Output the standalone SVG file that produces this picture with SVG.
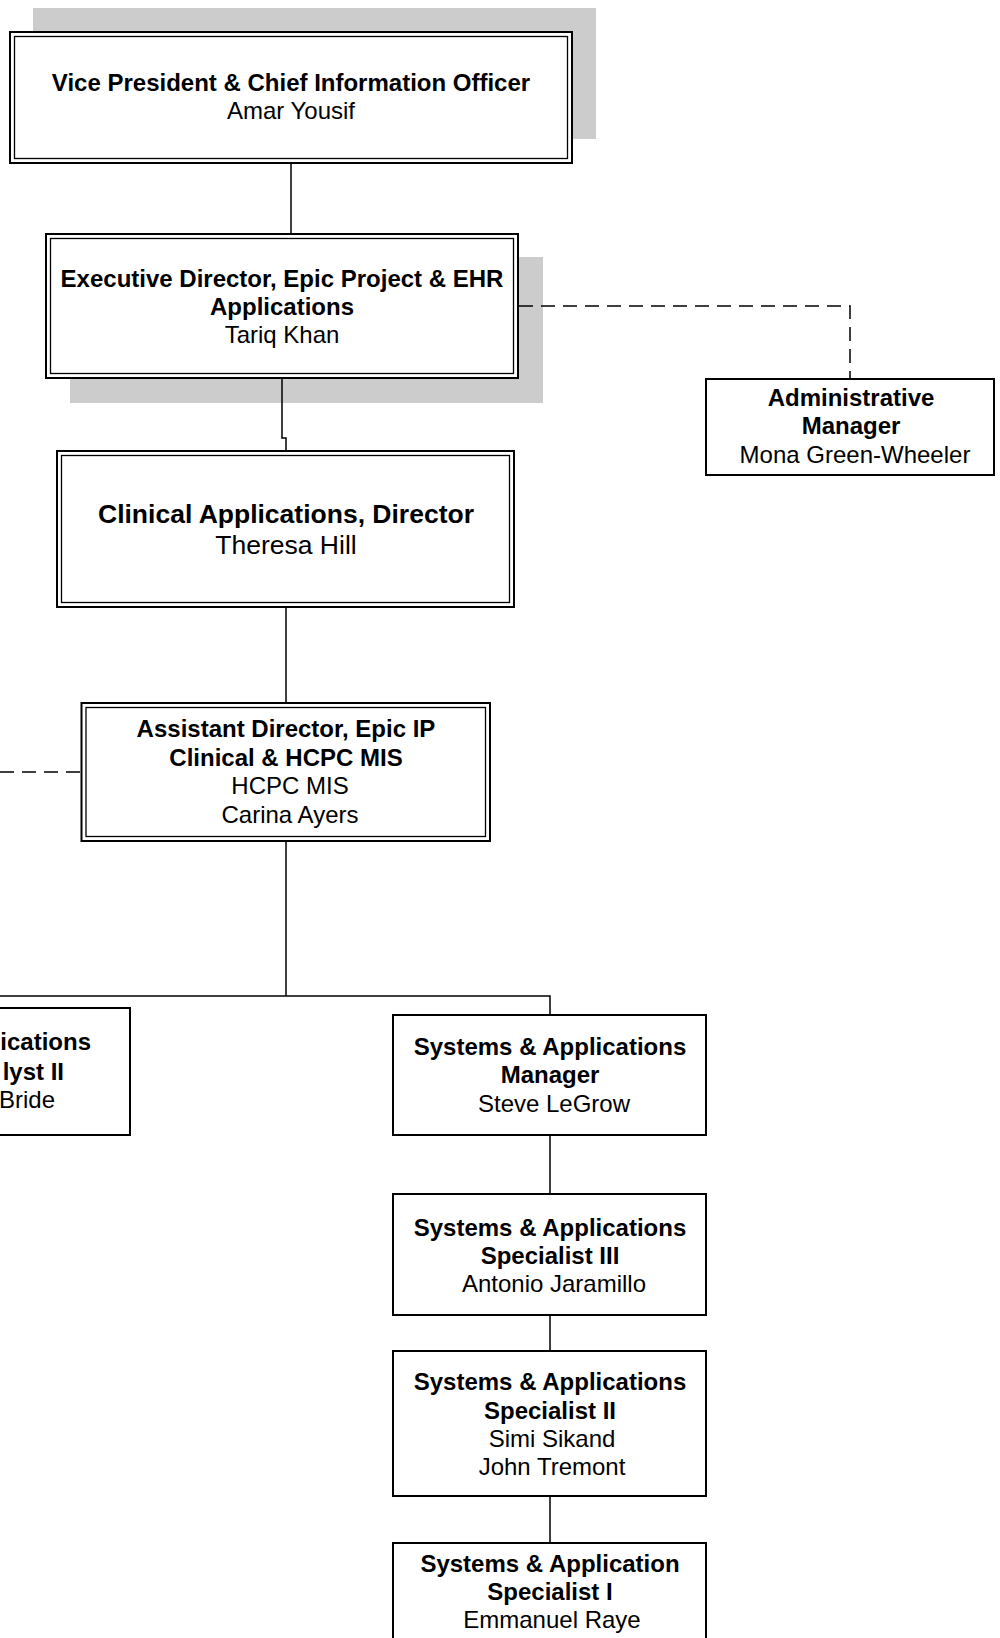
<svg xmlns="http://www.w3.org/2000/svg" width="1000" height="1638" viewBox="0 0 1000 1638">
<style>
text{font-family:"Liberation Sans",Arial,sans-serif;font-size:24px;fill:#000;text-anchor:middle}
.b{font-weight:bold}
.big{font-size:26.5px}
.end{text-anchor:end}
.shadow{fill:#cccccc;stroke:none}
.box{fill:#fff;stroke:#000;stroke-width:2}
.inner{fill:none;stroke:#000;stroke-width:1.3}
.ln{fill:none;stroke:#000;stroke-width:1.5}
.dash{fill:none;stroke:#000;stroke-width:1.5;stroke-dasharray:14 8}
</style>
<rect width="1000" height="1638" fill="#fff"/>
<g id="vp">
<rect class="shadow" x="33" y="8" width="563" height="131"/>
<rect class="box" x="10" y="32" width="562" height="131"/>
<rect class="inner" x="14.5" y="36.5" width="553" height="122"/>
<text class="b" x="291" y="91">Vice President &amp; Chief Information Officer</text>
<text x="291" y="119">Amar Yousif</text>
</g>
<g id="exec">
<rect class="shadow" x="70" y="257" width="473" height="146"/>
<rect class="box" x="46" y="234" width="472" height="144"/>
<rect class="inner" x="50.5" y="238.5" width="463" height="135"/>
<text class="b" x="282" y="287">Executive Director, Epic Project &amp; EHR</text>
<text class="b" x="282" y="315">Applications</text>
<text x="282" y="343">Tariq Khan</text>
</g>
<g id="admin">
<rect class="box" x="706" y="379" width="288" height="96"/>
<text class="b" x="851" y="406">Administrative</text>
<text class="b" x="851" y="434">Manager</text>
<text x="855" y="463">Mona Green-Wheeler</text>
</g>
<g id="clinical">
<rect class="box" x="57" y="451" width="457" height="156"/>
<rect class="inner" x="61.5" y="455.5" width="448" height="147"/>
<text class="b big" x="286" y="523">Clinical Applications, Director</text>
<text class="big" x="286" y="554">Theresa Hill</text>
</g>
<g id="asst">
<rect class="box" x="81.5" y="703" width="408.5" height="138"/>
<rect class="inner" x="86" y="707.5" width="399.5" height="129"/>
<text class="b" x="286" y="737">Assistant Director, Epic IP</text>
<text class="b" x="286" y="766">Clinical &amp; HCPC MIS</text>
<text x="290" y="794">HCPC MIS</text>
<text x="290" y="823">Carina Ayers</text>
</g>
<g id="analyst">
<rect class="box" x="-200" y="1008" width="330" height="127"/>
<text class="b end" x="91" y="1050">ications</text>
<text class="b end" x="64" y="1080">lyst II</text>
<text class="end" x="55" y="1108">Bride</text>
</g>
<g id="sam">
<rect class="box" x="393" y="1015" width="313" height="120"/>
<text class="b" x="550" y="1055">Systems &amp; Applications</text>
<text class="b" x="550" y="1083">Manager</text>
<text x="554" y="1112">Steve LeGrow</text>
</g>
<g id="spec3">
<rect class="box" x="393" y="1194" width="313" height="121"/>
<text class="b" x="550" y="1236">Systems &amp; Applications</text>
<text class="b" x="550" y="1264">Specialist III</text>
<text x="554" y="1292">Antonio Jaramillo</text>
</g>
<g id="spec2">
<rect class="box" x="393" y="1351" width="313" height="145"/>
<text class="b" x="550" y="1390">Systems &amp; Applications</text>
<text class="b" x="550" y="1419">Specialist II</text>
<text x="552" y="1447">Simi Sikand</text>
<text x="552" y="1475">John Tremont</text>
</g>
<g id="spec1">
<rect class="box" x="393" y="1543" width="313" height="120"/>
<text class="b" x="550" y="1572">Systems &amp; Application</text>
<text class="b" x="550" y="1600">Specialist I</text>
<text x="552" y="1628">Emmanuel Raye</text>
</g>
<g id="connectors">
<path class="ln" d="M291 164V233"/>
<path class="ln" d="M282 379V438H286V450"/>
<path class="dash" d="M519 306H850V378"/>
<path class="ln" d="M286 608V702"/>
<path class="dash" d="M0 772H80.5"/>
<path class="ln" d="M286 842V996"/>
<path class="ln" d="M0 996H550V1014"/>
<path class="ln" d="M550 1136V1193"/>
<path class="ln" d="M550 1316V1350"/>
<path class="ln" d="M550 1497V1542"/>
</g>
</svg>
